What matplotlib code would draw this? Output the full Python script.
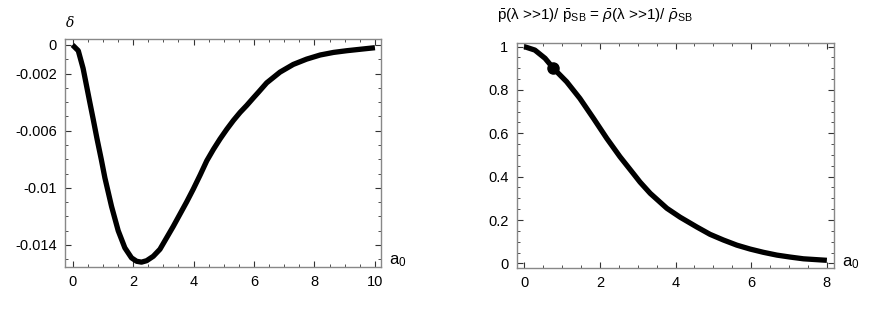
import numpy as np
import matplotlib
matplotlib.use("Agg")
import matplotlib.pyplot as plt
from matplotlib.ticker import MultipleLocator, FixedLocator

plt.rcParams['font.family'] = ['Liberation Sans', 'DejaVu Sans']
plt.rcParams['mathtext.fontset'] = 'custom'
plt.rcParams['mathtext.rm'] = 'Liberation Sans'
plt.rcParams['mathtext.it'] = 'Liberation Sans:italic'

# panel izquierdo: delta vs a0
a0_izq = [0.0, 0.19, 0.35, 0.46, 0.57, 0.68, 0.81, 0.95, 1.07, 1.29, 1.51, 1.73,
          1.95, 2.12, 2.28, 2.45, 2.67, 2.89, 3.11, 3.33, 3.55, 3.77, 3.99, 4.22,
          4.44, 4.66, 4.88, 5.1, 5.32, 5.54, 5.76, 5.98, 6.15, 6.42, 6.86, 7.3,
          7.74, 8.19, 8.63, 9.07, 9.51, 10.0]
delta = [0.0, -0.0004, -0.00164, -0.00282, -0.004, -0.00516, -0.00657, -0.008,
         -0.0093, -0.0113, -0.013, -0.0142, -0.0149, -0.01514, -0.0152, -0.0151,
         -0.01479, -0.0143, -0.0135, -0.0127, -0.01185, -0.011, -0.0101, -0.0091,
         -0.0081, -0.0073, -0.00657, -0.0059, -0.00528, -0.00472, -0.00423,
         -0.0037, -0.0033, -0.00265, -0.0019, -0.00136, -0.00099, -0.0007,
         -0.00052, -0.0004, -0.0003, -0.00019]
yticks_izq = [0, -0.002, -0.006, -0.01, -0.014]
yticklabels_izq = ['0', '-0.002', '-0.006', '-0.01', '-0.014']

# panel derecho: p/p_SB vs a0
a0_der = [0.0, 0.28, 0.55, 0.77, 1.12, 1.47, 1.83, 2.18, 2.53, 2.88, 3.06, 3.33,
          3.77, 4.12, 4.56, 4.91, 5.26, 5.62, 5.97, 6.32, 6.68, 7.03, 7.38, 8.0]
razon = [1.0, 0.984, 0.946, 0.9, 0.838, 0.761, 0.669, 0.577, 0.492, 0.415, 0.375,
         0.323, 0.254, 0.213, 0.168, 0.134, 0.108, 0.084, 0.066, 0.051, 0.038,
         0.029, 0.021, 0.014]
punto_x = [0.75]
punto_y = [0.9]

fig = plt.figure(figsize=(8.84, 3.18), dpi=100)
ax1 = fig.add_axes([0.0735, 0.1604, 0.3575, 0.717])
ax2 = fig.add_axes([0.5845, 0.1582, 0.359, 0.7075])


def estilo(ax):
    for s in ax.spines.values():
        s.set_color('#888888')
        s.set_linewidth(1.0)
    ax.tick_params(which='both', direction='in', top=True, right=True,
                   color='#333333', labelsize=10.5)
    ax.tick_params(which='major', length=4, width=0.8, pad=6)
    ax.tick_params(which='minor', length=2, width=0.6)


ax1.plot(a0_izq, delta, color='black', linewidth=3.8, solid_capstyle='butt',
         solid_joinstyle='round')
ax1.set_xlim(-0.25, 10.2)
ax1.set_ylim(-0.01554, 0.00042)
ax1.xaxis.set_major_locator(MultipleLocator(2))
ax1.xaxis.set_minor_locator(MultipleLocator(0.5))
ax1.yaxis.set_major_locator(FixedLocator(yticks_izq))
ax1.set_yticklabels(yticklabels_izq)
ax1.yaxis.set_minor_locator(MultipleLocator(0.001))
estilo(ax1)
ax1.text(0.016, 1.07, 'δ', transform=ax1.transAxes, ha='center', va='center',
         fontsize=10, family='DejaVu Serif', style='italic')
ax1.text(1.025, 0.025, r'a$_\mathrm{0}$', transform=ax1.transAxes, ha='left',
         va='center', fontsize=12)

ax2.plot(a0_der, razon, color='black', linewidth=3.8, solid_capstyle='butt',
         solid_joinstyle='round')
ax2.plot(punto_x, punto_y, 'o', color='black', markersize=8)
ax2.set_xlim(-0.2, 8.19)
ax2.set_ylim(-0.02, 1.018)
ax2.xaxis.set_major_locator(MultipleLocator(2))
ax2.xaxis.set_minor_locator(MultipleLocator(0.5))
ax2.yaxis.set_major_locator(MultipleLocator(0.2))
ax2.yaxis.set_minor_locator(MultipleLocator(0.05))
ax2.yaxis.set_major_formatter(plt.FuncFormatter(lambda v, p: f'{v:g}'))
estilo(ax2)
ax2.text(1.025, 0.02, r'a$_\mathrm{0}$', transform=ax2.transAxes, ha='left',
         va='center', fontsize=12)

fig.text(0.562, 0.952,
         r'$\bar{\mathrm{p}}$(λ >>1)/ $\bar{\mathrm{p}}_{\mathrm{SB}}$ = '
         r'$\bar{\rho}$(λ >>1)/ $\bar{\rho}_{\mathrm{SB}}$',
         ha='left', va='center', fontsize=11)

fig.savefig('out.png', dpi=100)
